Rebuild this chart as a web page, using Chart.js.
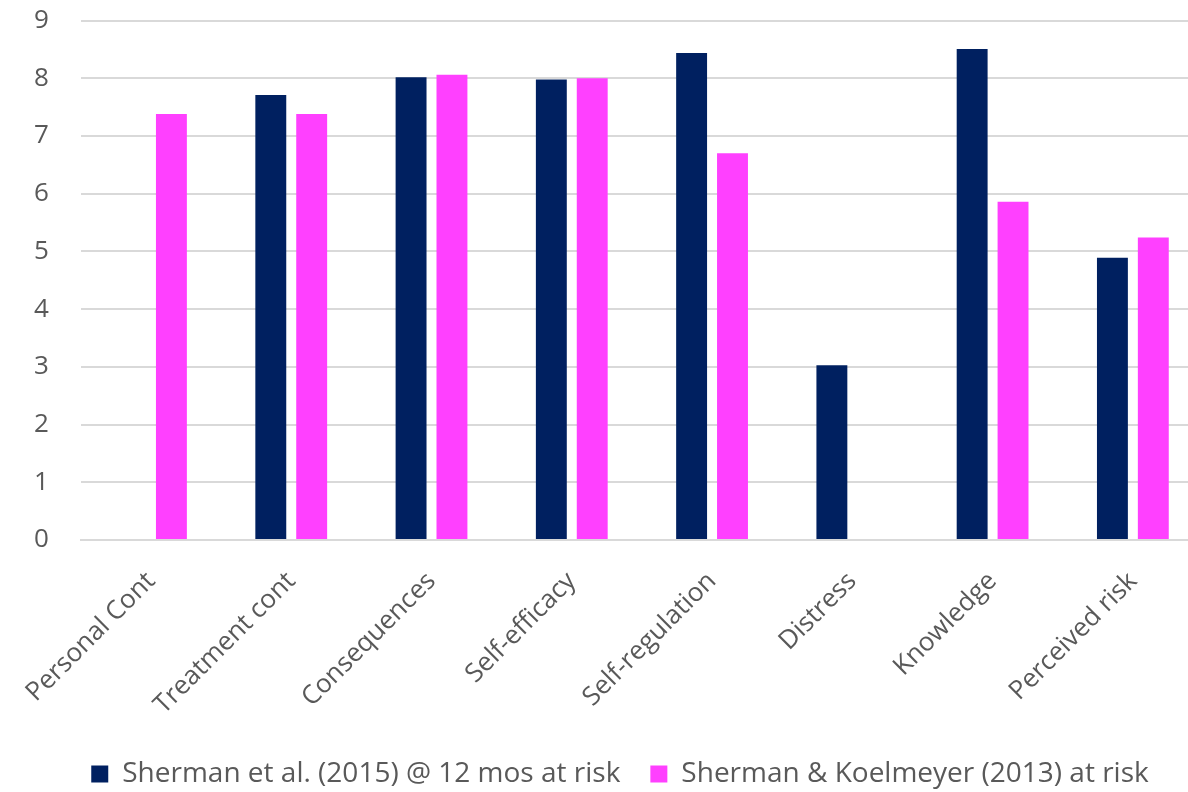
<!DOCTYPE html>
<html>
<head>
<meta charset="utf-8">
<script src="https://cdn.jsdelivr.net/npm/chart.js@4"></script>
<style>
  html, body { margin: 0; padding: 0; background: #fff; overflow: hidden; }
  #wrap { position: absolute; left: 0; top: -27px; width: 1240px; height: 825px; }
</style>
</head>
<body>
<div id="wrap"><canvas id="chart"></canvas></div>
<script>
// Illness-perception scores by dimension for two at-risk samples
const categories = [
  "Personal Cont", "Treatment cont", "Consequences", "Self-efficacy",
  "Self-regulation", "Distress", "Knowledge", "Perceived risk"
];
const sherman2015 = [null, 7.71, 8.02, 7.98, 8.44, 3.03, 8.51, 4.89];
const shermanKoelmeyer2013 = [7.38, 7.38, 8.06, 8.00, 6.70, null, 5.86, 5.24];
const seriesNames = [
  "Sherman et al. (2015) @ 12 mos at risk",
  "Sherman & Koelmeyer (2013) at risk"
];
const yTicks = [0, 1, 2, 3, 4, 5, 6, 7, 8, 9];

const FONT = "'Open Sans', 'Noto Sans', sans-serif";
const TEXT = "#595959";
const GRID = "#D9D9D9";

new Chart(document.getElementById("chart"), {
  type: "bar",
  data: {
    labels: categories,
    datasets: [
      { label: seriesNames[0], data: sherman2015, backgroundColor: "#002060" },
      { label: seriesNames[1], data: shermanKoelmeyer2013, backgroundColor: "#FF40FF" }
    ]
  },
  options: {
    responsive: true,
    maintainAspectRatio: false,
    animation: false,
    datasets: { bar: { categoryPercentage: 0.583, barPercentage: 0.756 } },
    layout: { padding: { left: 0, right: 0, top: 0, bottom: 0 } },
    plugins: {
      tooltip: { enabled: false },
      legend: {
        position: "bottom",
        labels: {
          color: TEXT,
          font: { family: FONT, size: 28 },
          boxWidth: 17,
          boxHeight: 17,
          padding: 30
        }
      }
    },
    scales: {
      x: {
        grid: { display: false, drawTicks: false },
        border: { display: true, color: GRID, width: 2 },
        ticks: {
          color: TEXT,
          font: { family: FONT, size: 26 },
          maxRotation: 45,
          minRotation: 45,
          padding: 26
        },
        afterFit: (s) => { s.height = 190; }
      },
      y: {
        min: 0,
        max: 9,
        afterBuildTicks: (s) => { s.ticks = yTicks.map(v => ({ value: v })); },
        grid: { color: GRID, lineWidth: 2, drawTicks: false },
        border: { display: false },
        ticks: {
          color: TEXT,
          font: { family: FONT, size: 26 },
          padding: 32
        },
        afterFit: (s) => { s.width = 78; }
      },
      // empty right-hand margin beside the plot
      yRight: {
        position: "right",
        min: 0,
        max: 9,
        grid: { display: false, drawTicks: false },
        border: { display: false },
        ticks: { display: false },
        afterFit: (s) => { s.width = 37; }
      }
    }
  }
});
</script>
</body>
</html>
